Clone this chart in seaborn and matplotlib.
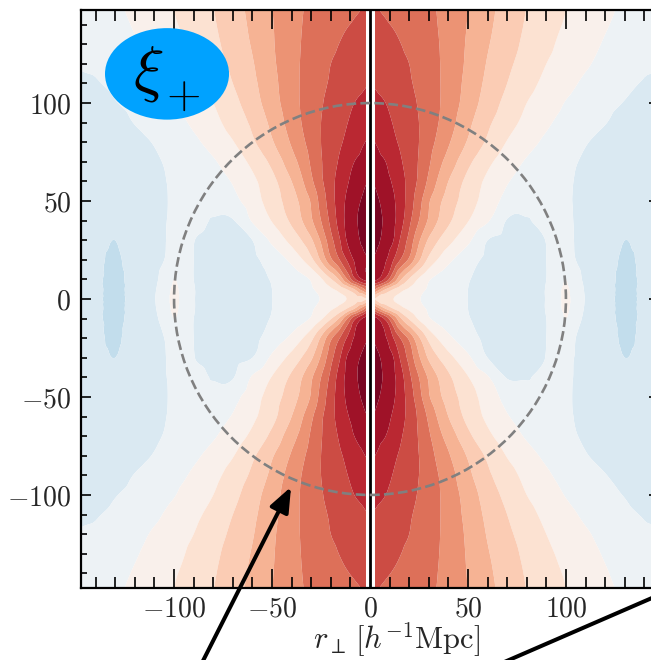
import numpy as np
import matplotlib
matplotlib.use("Agg")
import matplotlib.pyplot as plt
import matplotlib.tri as mtri
import seaborn as sns
from matplotlib.patches import Circle, Ellipse
from matplotlib.ticker import MultipleLocator

# ---------------- data (one quadrant, values in contour-level units) ----------------
r_perp_nodes = [0, 4, 8, 12, 16, 20, 25, 30, 35, 40, 50, 60, 70, 80, 90, 95, 100, 105, 110, 120, 130, 140, 150]
r_par_nodes = [0, 5, 10, 20, 30, 40, 50, 60, 70, 80, 90, 100, 110, 120, 135, 150]

xi_par000 = [2.0, 1.7, 1.4, 1.0, 0.7, 0.45, 0.05, -0.25, -0.5, -0.7, -1.0, -1.3, -1.45, -1.3, -0.95, -0.3, 0.15, -0.35, -1.05, -1.6, -2.3, -1.8, -1.7]
xi_par005 = [6.0, 4.5, 3.0, 2.0, 1.3, 0.85, 0.3, -0.1, -0.4, -0.65, -1.0, -1.3, -1.45, -1.3, -0.95, -0.3, 0.1, -0.4, -1.1, -1.6, -2.25, -1.8, -1.7]
xi_par010 = [8.5, 8.0, 6.7, 4.8, 3.0, 1.9, 0.85, 0.1, -0.3, -0.6, -0.95, -1.3, -1.45, -1.35, -1.0, -0.45, 0.0, -0.6, -1.2, -1.65, -2.2, -1.85, -1.7]
xi_par020 = [9.0, 8.6, 8.1, 7.0, 5.85, 4.8, 3.15, 1.75, 0.9, 0.25, -0.6, -1.2, -1.4, -1.35, -1.0, -0.55, -0.45, -1.0, -1.3, -1.65, -2.1, -1.85, -1.7]
xi_par030 = [9.6, 9.15, 8.6, 8.0, 6.75, 5.67, 4.14, 2.85, 2.0, 1.35, 0.2, -1.0, -1.3, -1.3, -0.97, -0.6, -0.75, -1.05, -1.25, -1.6, -2.0, -1.8, -1.7]
xi_par040 = [9.85, 9.35, 8.75, 8.2, 7.3, 6.25, 5.0, 3.85, 2.93, 2.2, 1.05, 0.1, -1.05, -1.05, -0.7, -0.7, -0.85, -1.05, -1.2, -1.55, -1.85, -1.75, -1.7]
xi_par050 = [9.55, 9.1, 8.6, 8.12, 7.4, 6.55, 5.37, 4.12, 3.25, 2.56, 1.48, 0.55, -0.3, -0.7, -0.85, -0.85, -0.92, -1.05, -1.2, -1.5, -1.75, -1.75, -1.7]
xi_par060 = [9.05, 8.7, 8.3, 7.86, 7.3, 6.67, 5.8, 4.8, 3.83, 3.0, 1.7, 0.79, 0.07, -0.4, -0.7, -0.8, -0.9, -1.03, -1.15, -1.45, -1.65, -1.7, -1.7]
xi_par070 = [8.45, 8.25, 8.0, 7.55, 7.06, 6.56, 5.92, 5.15, 4.3, 3.62, 2.25, 1.24, 0.48, -0.1, -0.5, -0.7, -0.85, -0.97, -1.1, -1.4, -1.6, -1.65, -1.7]
xi_par080 = [8.1, 7.9, 7.55, 7.18, 6.82, 6.45, 6.0, 5.38, 4.75, 4.12, 2.9, 1.84, 0.95, 0.35, -0.2, -0.45, -0.65, -0.8, -0.95, -1.25, -1.5, -1.6, -1.65]
xi_par090 = [7.7, 7.5, 7.25, 6.95, 6.65, 6.35, 6.0, 5.5, 5.0, 4.45, 3.25, 2.2, 1.4, 0.72, 0.17, -0.1, -0.3, -0.5, -0.65, -0.97, -1.25, -1.45, -1.55]
xi_par100 = [7.35, 7.18, 7.0, 6.75, 6.5, 6.25, 5.92, 5.5, 5.08, 4.6, 3.56, 2.55, 1.71, 1.0, 0.47, 0.21, -0.05, -0.25, -0.45, -0.8, -1.03, -1.25, -1.35]
xi_par110 = [7.0, 6.85, 6.7, 6.5, 6.3, 6.1, 5.8, 5.45, 5.08, 4.64, 3.7, 2.77, 2.0, 1.33, 0.76, 0.52, 0.29, 0.05, -0.2, -0.6, -0.85, -1.05, -1.2]
xi_par120 = [6.7, 6.62, 6.5, 6.35, 6.18, 6.0, 5.69, 5.38, 5.06, 4.67, 3.82, 2.93, 2.21, 1.59, 1.0, 0.78, 0.57, 0.35, 0.13, -0.3, -0.65, -0.9, -0.95]
xi_par135 = [6.35, 6.28, 6.18, 6.06, 5.9, 5.7, 5.47, 5.23, 5.0, 4.64, 3.92, 3.15, 2.47, 1.84, 1.32, 1.05, 0.83, 0.62, 0.42, 0.0, -0.35, -0.6, -0.75]
xi_par150 = [6.1, 5.97, 5.85, 5.72, 5.6, 5.45, 5.3, 5.13, 4.94, 4.63, 4.0, 3.3, 2.62, 2.0, 1.48, 1.28, 1.05, 0.84, 0.64, 0.24, -0.15, -0.4, -0.55]

contour_levels = list(range(-10, 11))
bao_radius = 100
x_ticks = [-100, -50, 0, 50, 100]
y_ticks = [-100, -50, 0, 50, 100]

# ---------------- style ----------------
sns.set_theme(style="ticks")
plt.rcParams["font.family"] = "serif"
plt.rcParams["font.serif"] = ["cmr10", "DejaVu Serif"]
plt.rcParams["mathtext.fontset"] = "cm"
plt.rcParams["axes.formatter.use_mathtext"] = True
plt.rcParams["axes.unicode_minus"] = True
plt.rcParams["axes.axisbelow"] = False

# ---------------- build mirrored grid ----------------
perp = np.array(r_perp_nodes, dtype=float)
par = np.array(r_par_nodes, dtype=float)
Zq = np.array([xi_par000, xi_par005, xi_par010, xi_par020, xi_par030, xi_par040,
               xi_par050, xi_par060, xi_par070, xi_par080, xi_par090, xi_par100,
               xi_par110, xi_par120, xi_par135, xi_par150])
Zr = np.hstack([Zq[:, :0:-1], Zq])
Z = np.vstack([Zr[:0:-1, :], Zr])
x = np.concatenate([-perp[:0:-1], perp])
y = np.concatenate([-par[:0:-1], par])
XX, YY = np.meshgrid(x, y)

# smooth contouring through matplotlib's triangulation refiner
tri = mtri.Triangulation(XX.ravel(), YY.ravel())
refiner = mtri.UniformTriRefiner(tri)
interp = mtri.CubicTriInterpolator(tri, Z.ravel(), kind="geom")
tri_f, z_f = refiner.refine_field(Z.ravel(), triinterpolator=interp, subdiv=3)

fig = plt.figure(figsize=(6.51, 6.60), dpi=100)
ax = fig.add_axes([81 / 651, 72 / 660, 578 / 651, 578 / 660])
ax.set_axisbelow(False)

cmap = sns.color_palette("RdBu_r", as_cmap=True)
ax.tricontourf(tri_f, z_f, levels=contour_levels, cmap=cmap, vmin=-10, vmax=10,
               extend="both", antialiased=True, zorder=1)

ax.set_xlim(-147.5, 147.5)
ax.set_ylim(-147.5, 147.5)

# line-of-sight marker
ax.axvline(0, color="white", lw=6.5, zorder=3)
ax.axvline(0, color="black", lw=2.0, zorder=3.5)

# BAO circle
ax.add_patch(Circle((0, 0), bao_radius, fill=False, ls="--", lw=1.9,
                    color="#808080", zorder=4))

# label badge
ax.add_patch(Ellipse((-103.6, 114.9), width=63.3, height=46.7,
                     color="#00A2FF", zorder=5, lw=0))
ax.text(-113.0, 115.0, r"$\xi$", fontsize=46, ha="center", va="center",
        color="black", zorder=6)
ax.text(-95.4, 103.0, r"$+$", fontsize=32, ha="center", va="center",
        color="black", zorder=6)

# connector arrows (leave the panel)
ax.annotate("", xy=(-40.3, -95.9), xytext=(-93.0, -200.0),
            arrowprops=dict(arrowstyle="-|>,head_length=0.75,head_width=0.3",
                            mutation_scale=20, color="black", lw=2.9,
                            shrinkA=0, shrinkB=0, clip_on=False),
            annotation_clip=False, zorder=7)
ax.annotate("", xy=(190.0, -132.6), xytext=(60.0, -189.0),
            arrowprops=dict(arrowstyle="-", color="black", lw=2.9,
                            shrinkA=0, shrinkB=0, clip_on=False),
            annotation_clip=False, zorder=7)

# ticks
ax.set_xticks(x_ticks)
ax.set_yticks(y_ticks)
ax.xaxis.set_minor_locator(MultipleLocator(10))
ax.yaxis.set_minor_locator(MultipleLocator(10))
ax.tick_params(axis="x", which="major", direction="in", length=13.5, width=1.2,
               top=True, bottom=True, labelsize=20, pad=6, color="black")
ax.tick_params(axis="x", which="minor", direction="in", length=7.8, width=1.2,
               top=True, bottom=True, color="black")
ax.tick_params(axis="y", which="major", direction="in", length=7.2, width=1.2,
               left=True, right=True, labelsize=20, pad=7, color="black")
ax.tick_params(axis="y", which="minor", direction="in", length=4.3, width=1.2,
               left=True, right=True, color="black")
for s in ax.spines.values():
    s.set_linewidth(1.6)
    s.set_color("black")
    s.set_zorder(8)

ax.set_xlabel(r"$r_\perp\,[h^{-1}\mathrm{Mpc}]$", fontsize=22)
ax.xaxis.set_label_coords((397 - 81) / 578, -0.056)

fig.savefig("out.png", dpi=100)
